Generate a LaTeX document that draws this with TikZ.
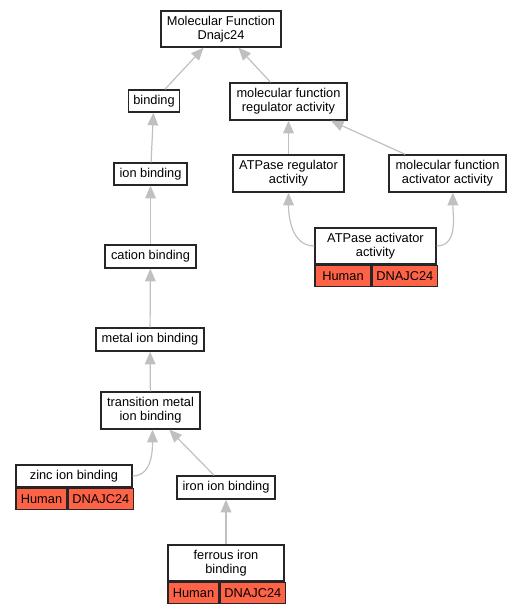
\documentclass[tikz,border=0pt]{standalone}
\usepackage{fontspec}
\setmainfont{Liberation Sans}
\usepackage{tikz}
\usetikzlibrary{arrows.meta}
\definecolor{edgegray}{RGB}{192,192,192}
\definecolor{hitred}{RGB}{255,99,71}
\tikzstyle{arrow} = [draw=edgegray, line width=0.9pt, -{Triangle[length=9.5pt,width=8pt]}]
\tikzstyle{term} = [draw=black!85, line width=1pt, rectangle, fill=white, inner sep=0pt, align=center, font=\fontsize{9.6}{10.4}\selectfont]
\tikzstyle{cell} = [term, fill=hitred, minimum height=15.75pt, anchor=north west]

\begin{document}
\begin{tikzpicture}[x=0.75pt, y=-0.75pt]
        \useasboundingbox (0,0) rectangle (520,613);
        % Node positions
        \node[term, minimum width=90pt, minimum height=27pt] (A) at (221,29) {Molecular Function\\Dnajc24};
        \node[term, minimum width=38.25pt, minimum height=16.5pt] (B) at (154,101) {binding};
        \node[term, minimum width=87.75pt, minimum height=27.75pt] (C) at (288.5,101.5) {molecular function\\regulator activity};
        \node[term, minimum width=54.75pt, minimum height=16.5pt] (D) at (150.5,174) {ion binding};
        \node[term, minimum width=83.25pt, minimum height=27.75pt] (E) at (288.5,173.5) {ATPase regulator\\activity};
        \node[term, minimum width=87.75pt, minimum height=27.75pt] (F) at (447.5,173.5) {molecular function\\activator activity};
        \node[term, minimum width=90.75pt, minimum height=27pt] (G) at (375.5,246) {ATPase activator\\activity};
        \node[term, minimum width=68.25pt, minimum height=17.25pt] (H) at (150.5,256.5) {cation binding};
        \node[term, minimum width=81pt, minimum height=17.25pt] (I) at (150,339.5) {metal ion binding};
        \node[term, minimum width=74.25pt, minimum height=27.75pt] (J) at (150.5,410.5) {transition metal\\ion binding};
        \node[term, minimum width=87pt, minimum height=16.5pt] (K) at (74,476) {zinc ion binding};
        \node[term, minimum width=73.5pt, minimum height=17.25pt] (L) at (226,487.5) {iron ion binding};
        \node[term, minimum width=87pt, minimum height=27pt] (M) at (226,563) {ferrous iron\\binding};

        % Species rows
        \node[cell, minimum width=42pt] (G1) at (G.south west) {Human};
        \node[cell, minimum width=48.75pt] (G2) at (G1.north east) {DNAJC24};
        \node[cell, minimum width=38.25pt] (K1) at (K.south west) {Human};
        \node[cell, minimum width=48.75pt] (K2) at (K1.north east) {DNAJC24};
        \node[cell, minimum width=38.25pt] (M1) at (M.south west) {Human};
        \node[cell, minimum width=48.75pt] (M2) at (M1.north east) {DNAJC24};

        \draw[arrow] (B) -- (A);
        \draw[arrow] (C) -- (A);
        \draw[arrow] (D) -- (B);
        \draw[arrow] (E) -- (C);
        \draw[arrow] (F) -- (C);
        \draw[arrow] (G.west) to[out=180, in=-90] (E.south);
        \draw[arrow] (G.east) to[out=0, in=-90] ([xshift=4pt]F.south);
        \draw[arrow] (H) -- (D);
        \draw[arrow] (I) -- (H);
        \draw[arrow] (J) -- (I);
        \draw[arrow] (K.east) to[out=0, in=-90] ([xshift=1.5pt]J.south);
        \draw[arrow] (L) -- (J);
        \draw[arrow] (M) -- (L);
      \end{tikzpicture}
\end{document}
